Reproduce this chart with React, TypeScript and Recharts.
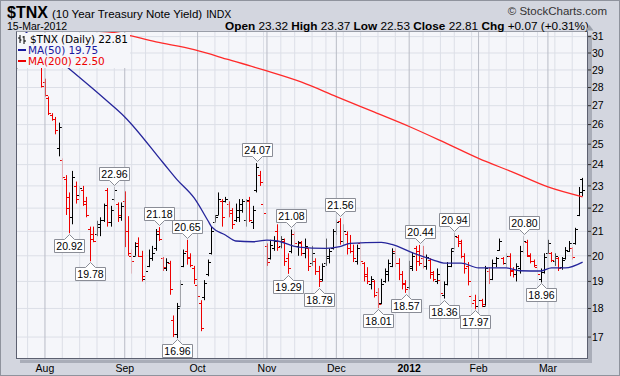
import React from "react";
import {
  ComposedChart,
  Bar,
  Line,
  XAxis,
  YAxis,
  CartesianGrid,
  ReferenceLine,
} from "recharts";

// daily bars for $TNX, 20-Jul-2011 .. 15-Mar-2012 (164 sessions)
const opens = [
  29.3, 29.7, 30.2, 30.0, 30.2, 30.1, 30.3, 29.3, 28.3, 27.4,
  26.5, 26.3, 24.8, 24.2, 23.3, 22.5, 21.6, 23.0, 22.6, 22.8,
  22.3, 21.1, 20.9, 20.9, 21.2, 21.5, 22.8, 21.4, 22.4, 22.2,
  21.6, 22.3, 21.0, 20.0, 20.0, 20.5, 20.0, 19.1, 19.6, 19.9,
  20.3, 21.0, 19.9, 19.5, 19.7, 17.6, 17.1, 18.1, 19.6, 20.2,
  19.9, 19.5, 18.85, 18.2, 18.4, 19.3, 20.1, 21.4, 21.7, 22.3,
  22.3, 22.2, 21.9, 21.5, 21.6, 21.9, 21.5, 22.3, 21.4, 22.8,
  23.5, 22.2, 20.4, 19.9, 20.3, 21.0, 20.4, 20.6, 19.9, 20.2,
  20.9, 20.4, 20.5, 20.1, 20.3, 19.7, 19.8, 19.4, 19.1, 19.7,
  19.9, 20.3, 21.0, 21.45, 20.6, 20.9, 20.5, 20.2, 19.8, 20.5,
  19.7, 19.3, 18.9, 19.0, 18.6, 18.2, 19.0, 19.3, 19.6, 20.2,
  19.7, 19.3, 18.95, 18.8, 19.5, 20.3, 20.2, 19.9, 19.6, 19.85,
  19.35, 19.0, 19.05, 18.5, 18.9, 19.6, 20.3, 20.75, 20.6, 20.0,
  19.6, 18.45, 18.3, 18.1, 18.3, 18.1, 19.4, 19.1, 19.7, 20.25,
  19.9, 19.7, 20.0, 19.45, 19.3, 19.5, 20.2, 20.55, 20.0, 19.8,
  19.55, 19.1, 19.35, 20.1, 20.1, 19.8, 19.9, 19.55, 19.9, 20.2,
  20.3, 20.5, 21.7, 23.32,
];
const highs = [
  29.6, 30.4, 30.5, 30.4, 30.5, 30.6, 30.4, 29.4, 28.5, 27.5,
  26.6, 26.4, 26.1, 24.3, 23.5, 22.7, 23.7, 23.2, 23.0, 23.0,
  22.5, 21.2, 21.2, 21.45, 21.6, 22.2, 22.9, 22.1, 22.96, 22.25,
  22.25, 22.75, 21.65, 20.25, 20.55, 20.75, 20.2, 19.65, 20.25, 20.4,
  21.1, 21.18, 19.95, 19.9, 19.8, 17.75, 18.2, 19.05, 20.25, 20.65,
  20.1, 19.6, 18.9, 18.3, 19.05, 19.85, 21.2, 21.7, 22.7, 22.4,
  22.5, 22.3, 22.0, 22.2, 22.4, 22.4, 22.4, 22.5, 22.1, 24.07,
  23.7, 22.3, 20.5, 20.65, 20.8, 21.3, 20.8, 20.7, 20.1, 21.08,
  21.0, 20.6, 20.6, 20.7, 20.3, 20.4, 19.9, 19.6, 19.7, 20.7,
  20.3, 21.1, 21.5, 21.56, 21.3, 21.0, 20.85, 20.45, 20.45, 20.6,
  19.75, 19.55, 19.2, 19.05, 18.75, 19.1, 19.5, 19.85, 20.3, 20.3,
  19.9, 19.4, 19.05, 19.8, 20.15, 20.4, 20.44, 20.4, 20.05, 19.9,
  19.4, 19.5, 19.07, 19.0, 19.75, 20.3, 20.94, 20.85, 20.65, 20.1,
  19.75, 18.5, 18.5, 18.45, 18.35, 19.6, 19.55, 19.85, 19.95, 20.7,
  19.95, 20.1, 20.1, 19.55, 19.7, 20.4, 20.8, 20.65, 20.1, 19.85,
  19.55, 19.5, 20.1, 20.65, 20.15, 20.1, 19.95, 19.95, 20.35, 20.6,
  20.35, 21.15, 22.95, 23.37,
];
const lows = [
  29.1, 29.7, 29.9, 29.8, 29.9, 29.9, 29.8, 28.0, 27.5, 26.5,
  26.2, 25.5, 24.4, 23.3, 21.7, 20.92, 21.3, 22.2, 22.5, 22.1,
  21.6, 19.78, 20.55, 20.8, 20.8, 21.4, 21.2, 21.2, 22.3, 21.4,
  21.45, 20.35, 20.0, 19.3, 20.0, 19.95, 19.0, 18.9, 19.55, 19.8,
  20.2, 20.6, 19.4, 19.4, 18.5, 17.0, 16.96, 18.05, 19.55, 19.65,
  19.55, 18.9, 18.3, 17.2, 18.3, 19.2, 20.05, 21.4, 21.7, 21.2,
  22.25, 21.6, 21.1, 21.4, 21.4, 21.8, 21.2, 21.4, 21.1, 22.7,
  23.0, 21.65, 19.6, 19.85, 20.2, 20.2, 20.3, 19.6, 19.29, 20.1,
  20.45, 20.0, 20.0, 19.9, 19.4, 19.6, 19.25, 18.79, 19.0, 19.6,
  19.7, 20.25, 20.85, 20.45, 20.45, 20.05, 20.1, 19.75, 19.65, 19.6,
  19.0, 18.9, 18.7, 18.4, 18.01, 18.15, 18.95, 19.0, 19.55, 19.55,
  19.05, 18.7, 18.57, 18.7, 19.4, 19.4, 19.6, 19.5, 19.45, 19.1,
  19.0, 18.9, 18.4, 18.36, 18.85, 19.55, 20.25, 20.35, 19.9, 19.3,
  18.85, 18.05, 17.97, 18.1, 18.05, 18.1, 18.9, 19.05, 19.55, 20.2,
  19.65, 19.55, 19.2, 19.15, 19.0, 19.3, 20.1, 19.95, 19.7, 19.55,
  19.25, 18.96, 19.3, 20.1, 19.75, 19.6, 19.4, 19.45, 19.85, 20.15,
  19.85, 20.45, 21.65, 22.53,
];
const closes = [
  29.45, 30.2, 30.0, 30.25, 30.1, 30.3, 29.9, 28.1, 27.6, 26.6,
  26.3, 25.7, 25.9, 23.4, 22.0, 21.6, 23.4, 22.4, 22.9, 22.2,
  21.7, 20.7, 20.6, 21.3, 21.5, 22.15, 21.4, 21.9, 22.8, 21.7,
  22.1, 21.0, 20.1, 19.8, 20.4, 20.0, 19.2, 19.4, 19.9, 20.1,
  20.9, 20.7, 19.55, 19.75, 18.7, 17.1, 18.0, 18.9, 20.1, 19.95,
  19.65, 19.1, 18.45, 17.3, 18.95, 19.75, 21.0, 21.6, 22.4, 21.6,
  22.4, 21.8, 21.3, 21.9, 22.2, 22.3, 22.35, 21.5, 21.9, 23.9,
  23.2, 21.8, 19.75, 20.45, 20.6, 20.35, 20.7, 19.8, 19.5, 20.9,
  20.5, 20.55, 20.1, 20.4, 19.6, 20.1, 19.4, 19.0, 19.6, 20.0,
  20.2, 21.0, 21.4, 20.6, 21.0, 20.3, 20.2, 19.9, 20.3, 19.8,
  19.2, 19.0, 19.1, 18.5, 18.15, 18.9, 19.4, 19.7, 20.1, 19.7,
  19.3, 18.9, 18.7, 19.6, 20.0, 19.8, 19.7, 19.6, 19.95, 19.3,
  19.1, 19.3, 18.55, 18.9, 19.6, 20.2, 20.8, 20.5, 20.0, 19.5,
  19.0, 18.2, 18.1, 18.3, 18.15, 19.5, 19.1, 19.7, 19.9, 20.6,
  19.7, 20.0, 19.4, 19.3, 19.6, 20.2, 20.6, 20.05, 19.8, 19.65,
  19.3, 19.45, 19.95, 20.5, 19.85, 20.0, 19.5, 19.85, 20.25, 20.5,
  19.95, 21.1, 22.74, 22.81,
];

// moving averages (session index -> value)
const ma50Idx = [0, 5, 13, 25, 31, 42, 46, 51, 55, 56, 60, 63, 68, 72, 75, 81, 89, 93, 96, 105, 108, 114, 120, 123, 128, 133, 141, 145, 151, 154, 158, 163];
const ma50Val = [31.8, 30.8, 29.4, 27.4, 26.4, 24.1, 23.3, 22.45, 21.45, 21.2, 20.85, 20.6, 20.57, 20.64, 20.6, 20.35, 20.3, 20.37, 20.5, 20.54, 20.46, 20.12, 19.83, 19.71, 19.71, 19.52, 19.52, 19.41, 19.4, 19.52, 19.52, 19.75];
const ma200Idx = [0, 14, 28, 40, 51, 61, 71, 82, 92, 103, 113, 123, 133, 143, 153, 163];
const ma200Val = [31.5, 31.42, 31.25, 30.67, 30.2, 29.6, 29.0, 28.3, 27.5, 26.65, 25.9, 25.1, 24.3, 23.63, 22.95, 22.5];

const monthIdx = [8, 31, 52, 72, 92, 113, 133, 153];
const monthLabels = ["Aug", "Sep", "Oct", "Nov", "Dec", "2012", "Feb", "Mar"];
const weekIdx = [3, 13, 18, 23, 28, 33, 37, 42, 47, 57, 61, 66, 71, 76, 80, 85, 89, 94, 99, 104, 109, 117, 122, 126, 131, 136, 141, 146, 150, 155, 160];
const yTicks = [17, 18, 19, 20, 21, 22, 23, 24, 25, 26, 27, 28, 29, 30, 31];

const peakIdx = [28, 41, 49, 69, 79, 93, 116, 126, 146];
const troughIdx = [15, 21, 46, 78, 87, 104, 112, 123, 132, 151];

const RED = "#ee0000";
const FONT = "'Liberation Sans', Arial, sans-serif";

const rows = opens.map((o, i) => {
  const m50 = ma50Idx.indexOf(i);
  const m200 = ma200Idx.indexOf(i);
  return {
    i,
    range: [lows[i], highs[i]],
    o,
    h: highs[i],
    l: lows[i],
    c: closes[i],
    up: i === 0 || closes[i] >= closes[i - 1],
    ma50: m50 >= 0 ? ma50Val[m50] : null,
    ma200: m200 >= 0 ? ma200Val[m200] : null,
    peak: peakIdx.includes(i) ? highs[i] : null,
    trough: troughIdx.includes(i) ? lows[i] : null,
  };
});

const OhlcShape = (props: any) => {
  const { x, y, width, height, payload } = props;
  if (x == null || y == null) return <g />;
  const cx = Math.round(x + width / 2) + 0.5;
  const lh = Math.log(payload.h);
  const ll = Math.log(payload.l);
  const at = (v: number) =>
    lh === ll ? y : Math.round(y + ((lh - Math.log(v)) / (lh - ll)) * height) + 0.5;
  const col = payload.up ? "#000" : RED;
  return (
    <g stroke={col} strokeWidth={1}>
      <line x1={cx} y1={y} x2={cx} y2={y + height} />
      <line x1={cx - 2.5} y1={at(payload.o)} x2={cx} y2={at(payload.o)} />
      <line x1={cx} y1={at(payload.c)} x2={cx + 2.5} y2={at(payload.c)} />
    </g>
  );
};

const Callout = (props: any) => {
  const { cx, cy, value, kind } = props;
  if (value == null || cx == null || cy == null) return <g key={props.index} />;
  const x = Math.round(cx) + 0.5;
  const hw = 15;
  const bh = 13;
  let d: string;
  let ty: number;
  if (kind === "low") {
    const tip = Math.round(cy) + 1.5;
    const top = tip + 5;
    d = `M${x - hw},${top} L${x - 5},${top} L${x},${tip} L${x + 5},${top} L${x + hw},${top} L${x + hw},${top + bh} L${x - hw},${top + bh} Z`;
    ty = top + 10.5;
  } else {
    const tip = Math.round(cy) - 1.5;
    const bot = tip - 5;
    d = `M${x - hw},${bot} L${x - 5},${bot} L${x},${tip} L${x + 5},${bot} L${x + hw},${bot} L${x + hw},${bot - bh} L${x - hw},${bot - bh} Z`;
    ty = bot - 2.5;
  }
  return (
    <g key={props.index}>
      <path d={d} fill="#fff" stroke="#8a8d96" strokeWidth={1} />
      <text x={x} y={ty} textAnchor="middle" fontSize={10.5} fontFamily={FONT} fill="#000">
        {Number(value).toFixed(2)}
      </text>
    </g>
  );
};

const MonthTick = (props: any) => {
  const { x, y, payload } = props;
  const k = monthIdx.indexOf(payload.value);
  const label = monthLabels[k] ?? "";
  return (
    <text
      x={x}
      y={y + 11}
      textAnchor="middle"
      fontSize={10.5}
      fontFamily={FONT}
      fontWeight={label === "2012" ? "bold" : "normal"}
      fill="#000"
    >
      {label}
    </text>
  );
};

const legendRow = {
  whiteSpace: "nowrap" as const,
  height: 10,
  lineHeight: "10px",
  fontSize: 10.5,
  letterSpacing: -0.1,
};

const App = () => {
  return (
    <div
      style={{
        position: "relative",
        width: 620,
        height: 376,
        boxSizing: "border-box",
        background: "#d3d6df",
        border: "1px solid #8f939d",
        fontFamily: FONT,
        overflow: "hidden",
      }}
    >
      <style>{`body{margin:0}`}</style>
      {/* plot drop shadow */}
      <div
        style={{
          position: "absolute",
          left: 19,
          top: 34,
          width: 572,
          height: 328,
          background: "#a9adb8",
        }}
      />
      <div style={{ position: "absolute", left: -1, top: -1 }}>
        <ComposedChart
          width={620}
          height={376}
          data={rows}
          margin={{ top: 31, right: 0, bottom: 0, left: 16 }}
        >
          <CartesianGrid vertical={false} fill="#f5f6fa" stroke="#dcdfe7" />
          {weekIdx.map((w) => (
            <ReferenceLine key={"w" + w} x={w} stroke="#dcdfe7" />
          ))}
          {monthIdx.map((m) => (
            <ReferenceLine key={"m" + m} x={m} stroke="#b9bcc6" />
          ))}
          <XAxis
            dataKey="i"
            type="number"
            domain={[-0.35, 164.55]}
            allowDataOverflow
            ticks={monthIdx}
            tick={<MonthTick />}
            tickLine={false}
            axisLine={false}
            tickSize={0}
            height={17}
            interval={0}
          />
          <YAxis
            orientation="right"
            scale="log"
            type="number"
            domain={[16.27, 31.35]}
            allowDataOverflow
            ticks={yTicks}
            interval={0}
            width={32}
            axisLine={false}
            tickSize={3}
            tickMargin={1}
            tickLine={{ stroke: "#333" }}
            tick={{ fontSize: 10.5, fill: "#000", fontFamily: FONT }}
          />
          <Bar
            dataKey="range"
            shape={OhlcShape}
            barSize={3}
            isAnimationActive={false}
          />
          <Line
            dataKey="ma200"
            type="monotone"
            connectNulls
            dot={false}
            stroke="#ff2a2a"
            strokeWidth={1.3}
            isAnimationActive={false}
          />
          <Line
            dataKey="ma50"
            type="monotone"
            connectNulls
            dot={false}
            stroke="#25259b"
            strokeWidth={1.3}
            isAnimationActive={false}
          />
          <Line
            dataKey="peak"
            stroke="none"
            dot={(p: any) => <Callout {...p} kind="high" />}
            activeDot={false}
            isAnimationActive={false}
          />
          <Line
            dataKey="trough"
            stroke="none"
            dot={(p: any) => <Callout {...p} kind="low" />}
            activeDot={false}
            isAnimationActive={false}
          />
        </ComposedChart>
      </div>
      {/* plot frame */}
      <div
        style={{
          position: "absolute",
          left: 15,
          top: 30,
          width: 572,
          height: 328,
          boxSizing: "border-box",
          borderLeft: "1px solid #5c6070",
          borderBottom: "1px solid #5c6070",
          borderRight: "1px solid #5c6070",
          borderTop: "1px solid #9a9ea8",
          pointerEvents: "none",
        }}
      />
      {/* in-plot legend */}
      <div
        style={{
          position: "absolute",
          left: 16,
          top: 32,
          background: "#f5f6fa",
          padding: "1px 2px 2px 1px",
          fontFamily: "'DejaVu Sans', sans-serif",
        }}
      >
        <div style={{ ...legendRow, color: "#000" }}>
          <svg width={9} height={9} style={{ verticalAlign: "-1px", marginRight: 3 }}>
            <path d="M2 0V8 M0 3H2 M2 5H3.5 M6 1V9 M4.5 2H6 M6 6H8" stroke="#000" strokeWidth={1} fill="none" />
          </svg>
          $TNX (Daily) 22.81
        </div>
        <div style={{ ...legendRow, color: "#1a1aa0", marginTop: 1 }}>
          <span style={{ display: "inline-block", width: 8, height: 2, background: "#1a1aa0", verticalAlign: "3px", marginRight: 2 }} />
          MA(50) 19.75
        </div>
        <div style={{ ...legendRow, color: "#ee0000", marginTop: 1 }}>
          <span style={{ display: "inline-block", width: 8, height: 2, background: "#ee0000", verticalAlign: "3px", marginRight: 2 }} />
          MA(200) 22.50
        </div>
      </div>
      {/* header */}
      <div style={{ position: "absolute", left: 6, top: 3, height: 18, lineHeight: "18px", whiteSpace: "nowrap", color: "#000" }}>
        <span style={{ fontWeight: "bold", fontSize: 16 }}>$TNX</span>
        <span style={{ fontSize: 11.5, marginLeft: 4 }}>(10 Year Treasury Note Yield)</span>
        <span style={{ fontSize: 10.5, marginLeft: 4 }}>INDX</span>
      </div>
      <div style={{ position: "absolute", left: 6, top: 20, height: 10, lineHeight: "10px", fontSize: 10.5, color: "#000" }}>
        15-Mar-2012
      </div>
      <div style={{ position: "absolute", right: 12, top: 4, height: 13, lineHeight: "13px", fontSize: 11.5, color: "#333" }}>
        © StockCharts.com
      </div>
      <div style={{ position: "absolute", right: 30, top: 19, height: 12, lineHeight: "12px", fontSize: 11.8, whiteSpace: "nowrap", color: "#000" }}>
        <b>Open</b> 23.32 <b>High</b> 23.37 <b>Low</b> 22.53 <b>Close</b> 22.81 <b>Chg</b> +0.07 (+0.31%)
      </div>
      <svg style={{ position: "absolute", left: 584, top: 23 }} width={9} height={7}>
        <path d="M0.5 6.5 L4.5 1 L8.5 6.5 Z" fill="#9aa0ab" />
      </svg>
    </div>
  );
};

export default App;
